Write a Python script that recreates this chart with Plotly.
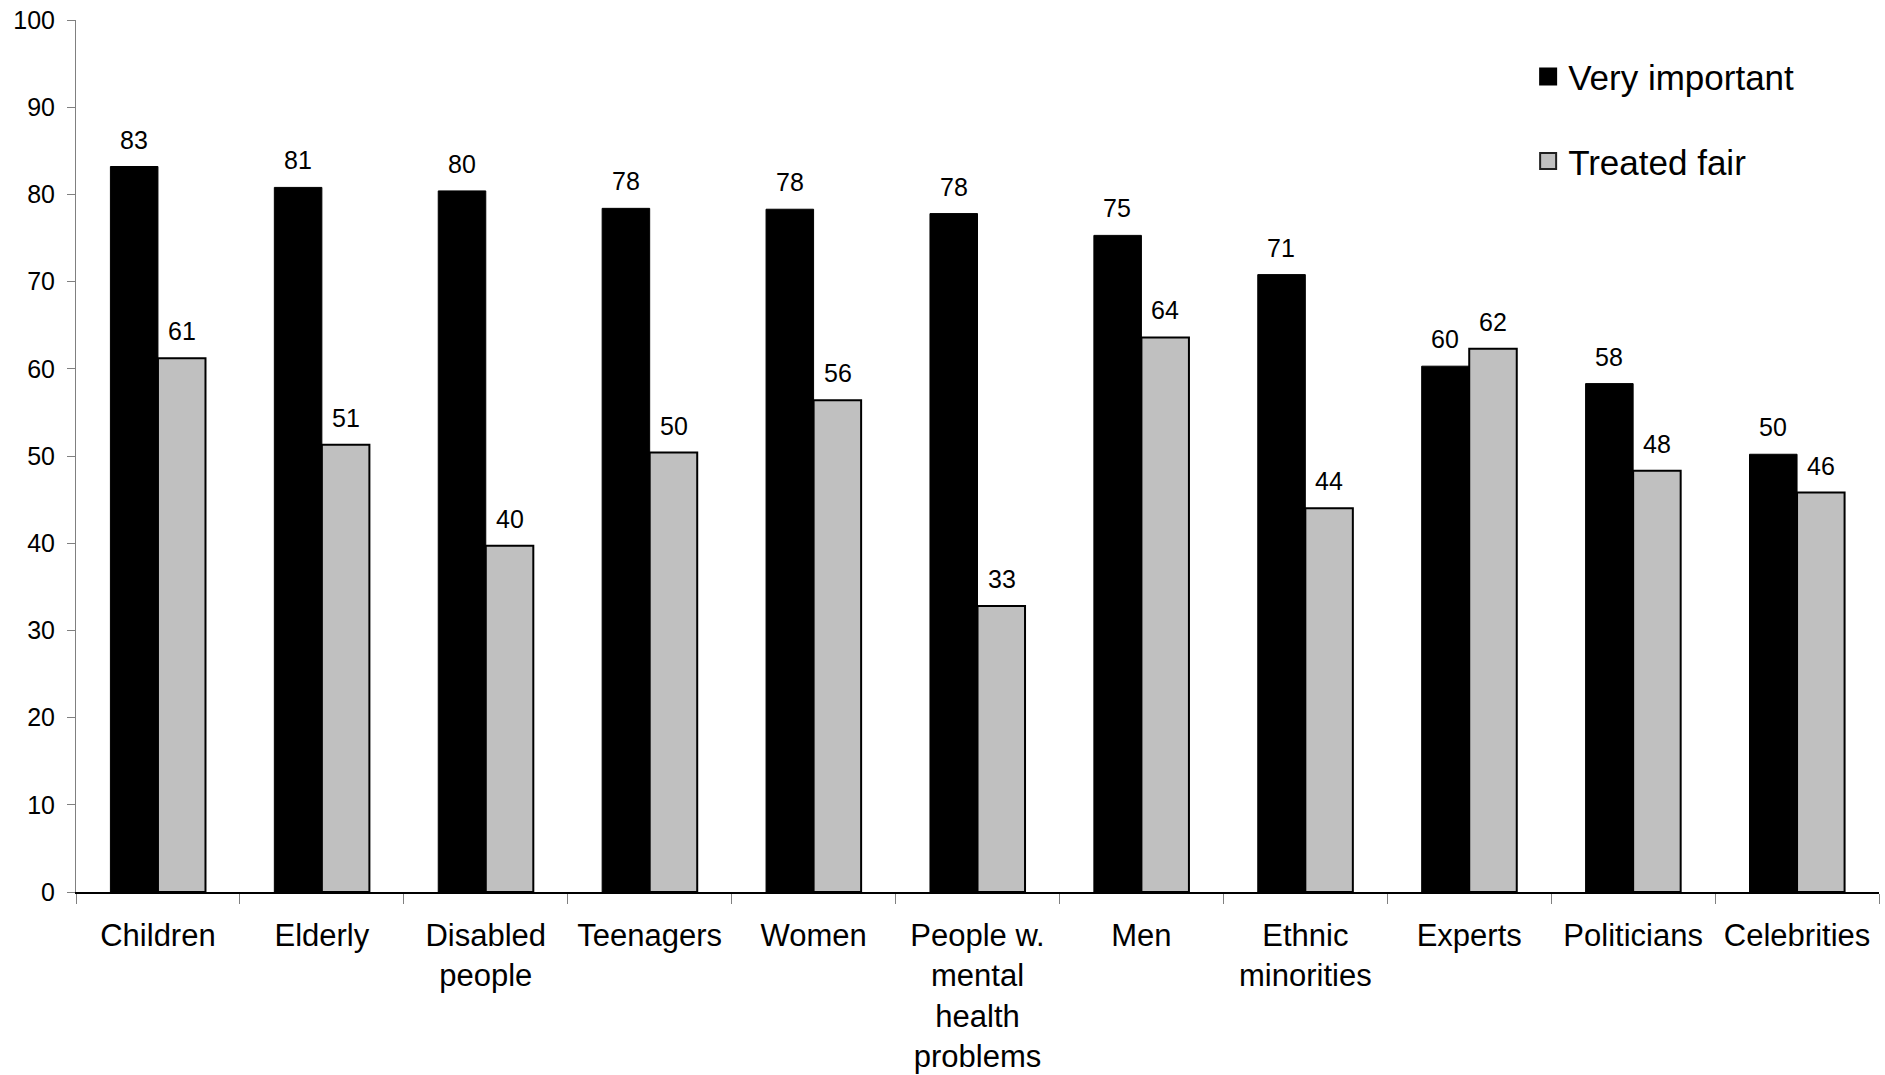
import plotly.graph_objects as go

categories = ["Children", "Elderly", "Disabled<br>people", "Teenagers", "Women",
              "People w.<br>mental<br>health<br>problems", "Men", "Ethnic<br>minorities",
              "Experts", "Politicians", "Celebrities"]
very_important = [83.2, 80.8, 80.4, 78.4, 78.3, 77.8, 75.3, 70.8, 60.3, 58.3, 50.2]
treated_fair = [61.2, 51.3, 39.7, 50.4, 56.4, 32.8, 63.6, 44.0, 62.3, 48.3, 45.8]
series_names = ["Very important", "Treated fair"]
y_ticks = [0, 10, 20, 30, 40, 50, 60, 70, 80, 90, 100]

FONT = "Liberation Sans, Arial, sans-serif"
BLACK = "#000000"
GRAY = "#C0C0C0"

fig = go.Figure()
fig.add_trace(go.Bar(name=series_names[0], x=categories, y=very_important,
                     marker=dict(color=BLACK, line=dict(color=BLACK, width=1)),
                     showlegend=False))
fig.add_trace(go.Bar(name=series_names[1], x=categories, y=treated_fair,
                     marker=dict(color=GRAY, line=dict(color=BLACK, width=2)),
                     showlegend=False))
# legend entries with larger square symbols
fig.add_trace(go.Scatter(name=series_names[0], x=[None], y=[None], mode="markers",
                         marker=dict(symbol="square", size=16, color=BLACK,
                                     line=dict(color=BLACK, width=2)),
                         legendgroup="a", hoverinfo="skip"))
fig.add_trace(go.Scatter(name=series_names[1], x=[None], y=[None], mode="markers",
                         marker=dict(symbol="square", size=16, color=GRAY,
                                     line=dict(color="#202020", width=2)),
                         legendgroup="b", hoverinfo="skip"))

annotations = []
for series, shift in ((very_important, -24), (treated_fair, 24)):
    for c, v in zip(categories, series):
        annotations.append(dict(x=c, y=v, xref="x", yref="y", text=f"{v:.0f}",
                                showarrow=False, xshift=shift, yshift=11,
                                yanchor="bottom",
                                font=dict(size=25, color=BLACK, family=FONT)))

fig.update_layout(
    width=1885, height=1075,
    margin=dict(l=76, r=6, t=20, b=183, autoexpand=False),
    paper_bgcolor="white", plot_bgcolor="white",
    barmode="group", bargap=0.42, bargroupgap=0,
    font=dict(family=FONT, color=BLACK),
    showlegend=True,
    legend=dict(x=0.8054, y=0.9687, xanchor="left", yanchor="top",
                font=dict(size=35, family=FONT), traceorder="grouped",
                tracegroupgap=36, bgcolor="rgba(0,0,0,0)"),
    annotations=annotations,
)
fig.update_xaxes(type="category", showline=True, linecolor=BLACK, linewidth=1.5,
                 ticks="outside", tickson="boundaries", ticklen=10, tickcolor="#808080",
                 tickfont=dict(size=31, family=FONT), showgrid=False,
                 ticklabelstandoff=15, automargin=False)
fig.update_yaxes(range=[0, 100], tickvals=y_ticks, showline=True, linecolor="#808080",
                 linewidth=1, ticks="outside", ticklen=8, tickcolor="#808080",
                 tickfont=dict(size=25, family=FONT), showgrid=False, zeroline=False,
                 ticklabelstandoff=7, automargin=False)

fig.write_html("out.html", config={"displayModeBar": False},
               post_script="document.body.style.margin='0px';")
